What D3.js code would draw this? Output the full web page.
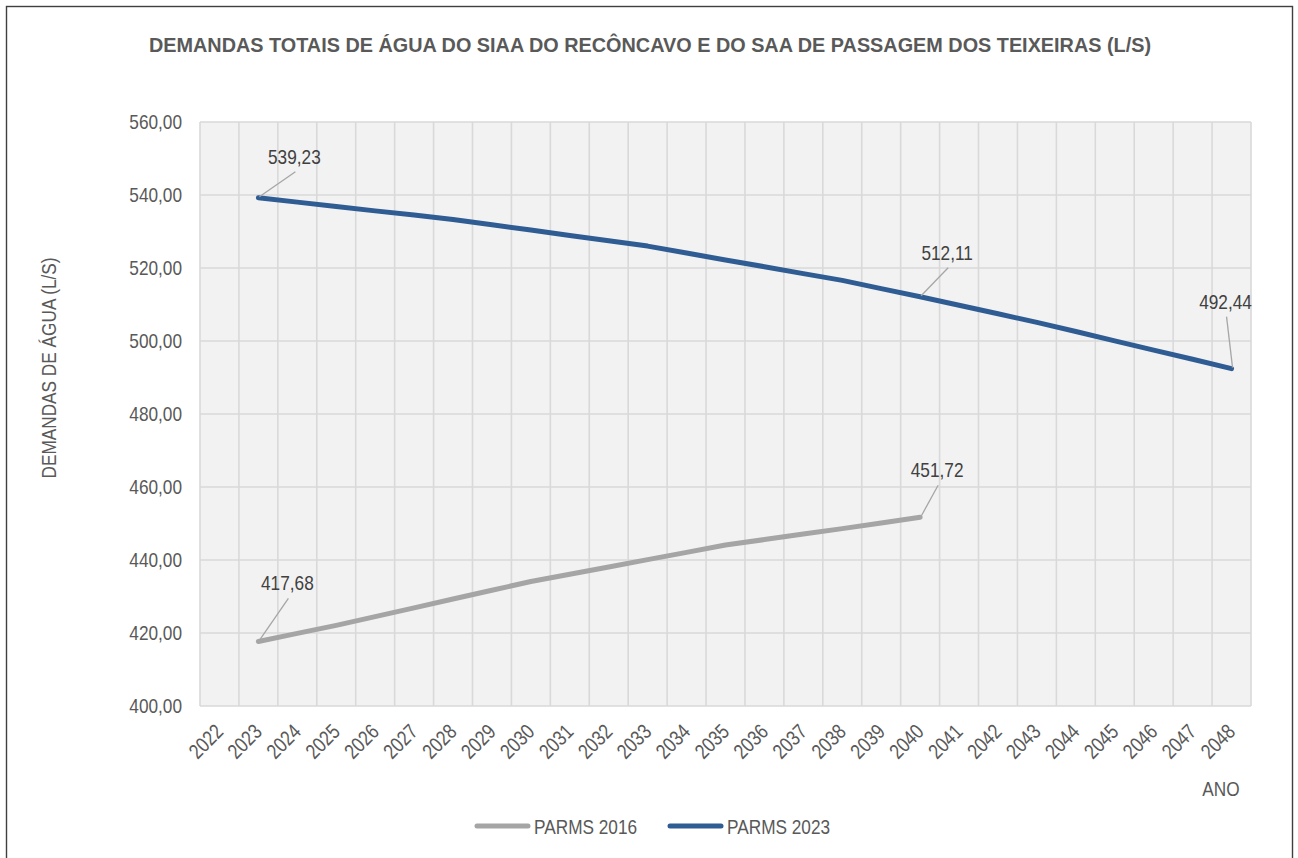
<!DOCTYPE html>
<html>
<head>
<meta charset="utf-8">
<script src="https://cdn.jsdelivr.net/npm/d3@7"></script>
<style>
  html, body { margin: 0; padding: 0; background: #ffffff; }
  svg text { font-family: "Liberation Sans", Arial, sans-serif; }
</style>
</head>
<body>
<script>
// Categories (years)
var years = d3.range(2022, 2049).map(String);

// Series values (L/s)
var parms2016Years = ["2023","2024","2025","2026","2027","2028","2029","2030","2031","2032",
  "2033","2034","2035","2036","2037","2038","2039","2040"];
var parms2016Values = [417.68, 419.9, 422.1, 424.5, 426.9, 429.3, 431.7, 434.1, 436.1, 438.1,
  440.1, 442.1, 444.1, 445.6, 447.1, 448.6, 450.15, 451.72];

var parms2023Years = ["2023","2024","2025","2026","2027","2028","2029","2030","2031","2032",
  "2033","2034","2035","2036","2037","2038","2039","2040","2041","2042","2043","2044","2045",
  "2046","2047","2048"];
var parms2023Values = [539.23, 538.05, 536.85, 535.65, 534.5, 533.3, 531.85, 530.4, 528.9, 527.45,
  526.0, 524.1, 522.2, 520.35, 518.45, 516.6, 514.35, 512.11, 509.8, 507.45, 505.1, 502.6, 500.05,
  497.5, 495.0, 492.44];

// Y tick values
var yTicks = [400, 420, 440, 460, 480, 500, 520, 540, 560];

// Labeled points: [year, label dx, label dy]
var labels2016 = [["2023", 29, -51], ["2040", 17, -40]];
var labels2023 = [["2023", 36, -34], ["2040", 27, -37], ["2048", -6, -60]];

var titleText = "DEMANDAS TOTAIS DE ÁGUA DO SIAA DO RECÔNCAVO E DO SAA DE PASSAGEM DOS TEIXEIRAS (L/S)";

var svgWidth = 1298;
var svgHeight = 858;

var margin = { top: 122, right: 47, bottom: 152, left: 200 };
var width = svgWidth - margin.left - margin.right;
var height = svgHeight - margin.top - margin.bottom;

var fontSize = "21px";

var ptBR = d3.formatLocale({ decimal: ",", thousands: ".", grouping: [3], currency: ["R$", ""] });
var fmt = ptBR.format(".2f");

// squeeze text horizontally to look like a narrow face
function narrow(sel) {
  sel.each(function() {
    var len = this.getComputedTextLength();
    d3.select(this)
      .attr("textLength", len * 0.82)
      .attr("lengthAdjust", "spacingAndGlyphs");
  });
}

var svg = d3.select("body")
  .append("svg")
  .attr("width", svgWidth)
  .attr("height", svgHeight);

// outer frame
svg.append("rect")
  .attr("x", 6.5).attr("y", 6.5)
  .attr("width", 1286).attr("height", 900)
  .attr("fill", "none")
  .attr("stroke", "#3f3f3f")
  .attr("stroke-width", 1.4);

// title
svg.append("text")
  .attr("x", 650)
  .attr("y", 52)
  .attr("text-anchor", "middle")
  .attr("font-size", "20px")
  .attr("font-weight", "bold")
  .attr("fill", "#595959")
  .attr("textLength", 1002)
  .attr("lengthAdjust", "spacingAndGlyphs")
  .text(titleText);

var chartGroup = svg.append("g")
  .attr("transform", `translate(${margin.left}, ${margin.top})`);

// scales
var xScale = d3.scaleBand()
  .domain(years)
  .range([0, width])
  .padding(0);

var yScale = d3.scaleLinear()
  .domain([400, 560])
  .range([height, 0]);

// plot background
chartGroup.append("rect")
  .attr("width", width)
  .attr("height", height)
  .attr("fill", "#f2f2f2");

// vertical gridlines at category boundaries
var xBounds = years.map(d => xScale(d)).concat([width]);
chartGroup.append("g")
  .selectAll("line")
  .data(xBounds)
  .enter()
  .append("line")
  .attr("x1", d => d).attr("x2", d => d)
  .attr("y1", 0).attr("y2", height)
  .attr("stroke", "#d9d9d9")
  .attr("stroke-width", 1.6);

// horizontal gridlines
chartGroup.append("g")
  .selectAll("line")
  .data(yTicks)
  .enter()
  .append("line")
  .attr("x1", 0).attr("x2", width)
  .attr("y1", d => yScale(d)).attr("y2", d => yScale(d))
  .attr("stroke", "#d9d9d9")
  .attr("stroke-width", 1.6);

// y axis
var leftAxis = d3.axisLeft(yScale)
  .tickValues(yTicks)
  .tickSize(0)
  .tickPadding(18)
  .tickFormat(fmt);

var yAxisG = chartGroup.append("g").call(leftAxis);
yAxisG.attr("font-family", null);
yAxisG.select(".domain").remove();
yAxisG.selectAll("text")
  .attr("font-size", fontSize)
  .attr("fill", "#595959")
  .call(narrow);

// x axis
var bottomAxis = d3.axisBottom(xScale).tickSize(0).tickPadding(0);
var xAxisG = chartGroup.append("g")
  .attr("transform", `translate(0, ${height})`)
  .call(bottomAxis);
xAxisG.attr("font-family", null);
xAxisG.select(".domain").remove();
xAxisG.selectAll("text")
  .attr("font-size", fontSize)
  .attr("fill", "#595959")
  .attr("dy", null)
  .attr("y", 0)
  .style("text-anchor", "end")
  .attr("transform", "translate(5, 27) rotate(-45)")
  .call(narrow);

// lines
var line = d3.line()
  .x(d => xScale(d.year) + xScale.bandwidth() / 2)
  .y(d => yScale(d.value));

var data2016 = parms2016Years.map((y, i) => ({ year: y, value: parms2016Values[i] }));
var data2023 = parms2023Years.map((y, i) => ({ year: y, value: parms2023Values[i] }));

var series = [
  { name: "PARMS 2016", data: data2016, color: "#a5a5a5", labels: labels2016 },
  { name: "PARMS 2023", data: data2023, color: "#2f5d93", labels: labels2023 }
];

series.forEach(function(s) {
  chartGroup.append("path")
    .datum(s.data)
    .attr("d", line)
    .attr("fill", "none")
    .attr("stroke", s.color)
    .attr("stroke-width", 5)
    .attr("stroke-linejoin", "round")
    .attr("stroke-linecap", "round");
});

// data labels with leader lines
series.forEach(function(s) {
  s.labels.forEach(function(l) {
    var d = s.data.find(p => p.year === l[0]);
    var px = xScale(d.year) + xScale.bandwidth() / 2;
    var py = yScale(d.value);
    var tx = px + l[1];
    var ty = py + l[2];
    chartGroup.append("line")
      .attr("x1", px + 1).attr("y1", py - 1)
      .attr("x2", tx + 1).attr("y2", ty + 8)
      .attr("stroke", "#a6a6a6")
      .attr("stroke-width", 1.3);
    chartGroup.append("text")
      .attr("x", tx)
      .attr("y", ty)
      .attr("text-anchor", "middle")
      .attr("font-size", fontSize)
      .attr("fill", "#404040")
      .text(fmt(d.value))
      .call(narrow);
  });
});

// axis titles
svg.append("text")
  .attr("transform", "translate(56, 368) rotate(-90)")
  .attr("text-anchor", "middle")
  .attr("font-size", fontSize)
  .attr("fill", "#595959")
  .text("DEMANDAS DE ÁGUA (L/S)")
  .call(narrow);

svg.append("text")
  .attr("x", 1221)
  .attr("y", 796)
  .attr("text-anchor", "middle")
  .attr("font-size", fontSize)
  .attr("fill", "#595959")
  .text("ANO")
  .call(narrow);

// legend
var legend = svg.append("g").attr("transform", "translate(475, 826)");
var legendX = [0, 193];
series.forEach(function(s, i) {
  var g = legend.append("g").attr("transform", `translate(${legendX[i]}, 0)`);
  g.append("line")
    .attr("x1", 2).attr("x2", 53)
    .attr("y1", 0).attr("y2", 0)
    .attr("stroke", s.color)
    .attr("stroke-width", 5)
    .attr("stroke-linecap", "round");
  g.append("text")
    .attr("x", 59)
    .attr("y", 8)
    .attr("font-size", fontSize)
    .attr("fill", "#595959")
    .text(s.name)
    .call(narrow);
});
</script>
</body>
</html>
